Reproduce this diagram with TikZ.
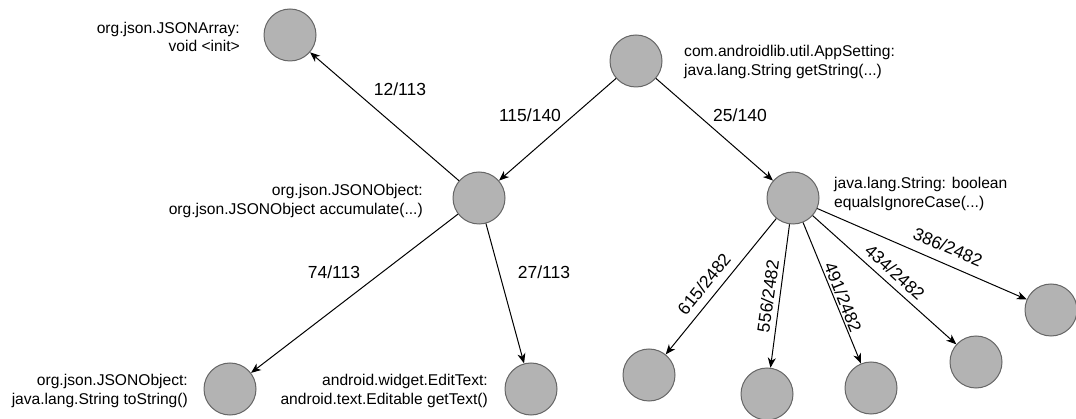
\documentclass[tikz,border=0pt]{standalone}
\usepackage{fontspec}
\setmainfont{Liberation Sans}
\usetikzlibrary{arrows.meta}
\definecolor{nodefill}{HTML}{B3B3B3}
\definecolor{nodeline}{HTML}{666666}
\begin{document}
\begin{tikzpicture}[x=1pt,y=-1pt,
  vertex/.style={circle,draw=nodeline,fill=nodefill,line width=1pt,minimum size=52pt,inner sep=0pt},
  caption/.style={inner sep=0pt,font=\fontsize{15.6}{18.7}\selectfont},
  weight/.style={inner sep=0pt,font=\fontsize{17.5}{20}\selectfont},
  link/.style={draw,line width=1pt,-{Stealth[length=10pt,width=8pt,inset=3pt]}}
]
\useasboundingbox (0,0) rectangle (1076,419);

% call-graph vertices
\node[vertex] (root) at (636,61) {};
\node[vertex] (arr)  at (290,35) {};
\node[vertex] (acc)  at (479,198) {};
\node[vertex] (str)  at (793,198) {};
\node[vertex] (tos)  at (230,389) {};
\node[vertex] (edt)  at (531,389) {};
\node[vertex] (c1)   at (649,375) {};
\node[vertex] (c2)   at (767,394) {};
\node[vertex] (c3)   at (871,388) {};
\node[vertex] (c4)   at (976,362) {};
\node[vertex] (c5)   at (1051,310) {};

% method names
\node[caption,anchor=east,align=right] (tarr) at (240,37) {org.json.JSONArray:\\void <init>};
\node[caption,anchor=west,align=left] (troot) at (684,62) {com.androidlib.util.AppSetting:\\java.lang.String getString(...)};
\node[caption,anchor=east,align=right] (tacc) at (423,201) {org.json.JSONObject:\\org.json.JSONObject accumulate(...)};
\node[caption,anchor=west,align=left] (tstr) at (834,194) {java.lang.String: boolean\\equalsIgnoreCase(...)};
\node[caption,anchor=east,align=right] (ttos) at (188,391) {org.json.JSONObject:\\java.lang.String toString()};
\node[caption,anchor=east,align=right] (tedt) at (488,391) {android.widget.EditText:\\android.text.Editable getText()};

% calls
\path[link] (root) -- (acc);
\path[link] (root) -- (str);
\path[link] (acc) -- (arr);
\path[link] (acc) -- (tos);
\path[link] (acc) -- (edt);
\path[link] (str) -- (c1);
\path[link] (str) -- (c2);
\path[link] (str) -- (c3);
\path[link] (str) -- (c4);
\path[link] (str) -- (c5);

% call counts
\node[weight] (w1) at (400,89) {12/113};
\node[weight] (w2) at (530,115) {115/140};
\node[weight] (w3) at (740,115) {25/140};
\node[weight] (w4) at (334,272) {74/113};
\node[weight] (w5) at (544,272) {27/113};
\node[weight,rotate=51]  (w6) at (704,284) {615/2482};
\node[weight,rotate=82]  (w7) at (768,296) {556/2482};
\node[weight,rotate=-68] (w8) at (843,297) {491/2482};
\node[weight,rotate=-42] (w9) at (895,272) {434/2482};
\node[weight,rotate=-23] (w10) at (948,247) {386/2482};
\end{tikzpicture}
\end{document}
